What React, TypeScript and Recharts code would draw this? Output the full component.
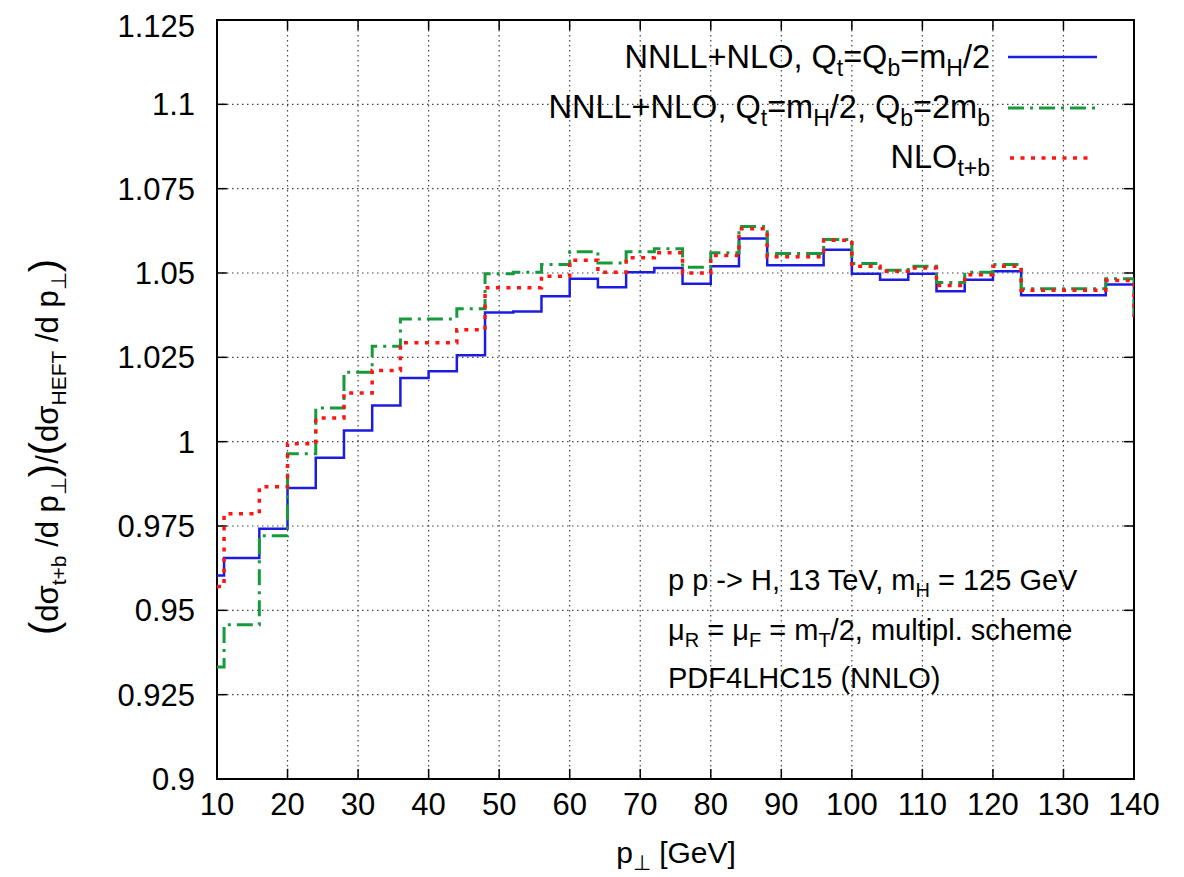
import { CartesianGrid, Line, LineChart, ReferenceArea, ReferenceLine, XAxis, YAxis } from "recharts";

// bin starts in p_T [GeV]; last entry closes the histogram at 140
const BIN_EDGES = [10, 11, 16, 20, 24, 28, 32, 36, 40, 44, 48, 52, 56, 60, 64, 68, 72, 76, 80, 84, 88, 92, 96, 100, 104, 108, 112, 116, 120, 124, 128, 132, 136, 140];

const NNLL_QT_QB = [0.9603, 0.9655, 0.9742, 0.9863, 0.9952, 1.0033, 1.0107, 1.0189, 1.0209, 1.0256, 1.0383, 1.0386, 1.0431, 1.0483, 1.0458, 1.0502, 1.0515, 1.0468, 1.052, 1.0602, 1.0523, 1.0523, 1.0569, 1.0498, 1.048, 1.0498, 1.0446, 1.048, 1.0505, 1.0434, 1.0434, 1.0434, 1.0466, 1.037];
const NNLL_QB_2MB = [0.9332, 0.9457, 0.9721, 0.9964, 1.01, 1.0206, 1.0283, 1.0364, 1.0364, 1.0394, 1.0498, 1.0502, 1.0525, 1.0563, 1.053, 1.0563, 1.0572, 1.0517, 1.056, 1.0638, 1.0558, 1.0558, 1.0599, 1.0528, 1.0508, 1.052, 1.0472, 1.0502, 1.0525, 1.0453, 1.0453, 1.0453, 1.0483, 1.037];
const NLO_TB = [0.9571, 0.9786, 0.9866, 0.9994, 1.007, 1.0144, 1.0211, 1.0293, 1.0293, 1.0332, 1.0456, 1.0456, 1.049, 1.0538, 1.0502, 1.0545, 1.056, 1.05, 1.0552, 1.0631, 1.0548, 1.0548, 1.0597, 1.052, 1.0505, 1.0515, 1.0463, 1.0495, 1.052, 1.0449, 1.0449, 1.0449, 1.0478, 1.037];

const X_TICKS = [10, 20, 30, 40, 50, 60, 70, 80, 90, 100, 110, 120, 130, 140];
const Y_TICKS = [0.9, 0.925, 0.95, 0.975, 1, 1.025, 1.05, 1.075, 1.1, 1.125];

const data = BIN_EDGES.map((x, i) => ({
  x,
  qtqb: NNLL_QT_QB[i],
  qb2mb: NNLL_QB_2MB[i],
  nlo: NLO_TB[i],
}));

const FONT = "'Liberation Sans', Arial, Helvetica, sans-serif";
const W = 1176;
const H = 869;

const BLUE = "#1c1ce0";
const GREEN = "#169a3c";
const RED = "#ff1414";
const GREEN_DASH = "16 6 3 6";
const RED_DASH = "4 6.5";

// text pieces: plain strings, or [string] for a subscript, or {big: string} for enlarged glyphs
type Piece = string | [string] | { big: string };

function rich(pieces: Piece[], subSize: number, dy: number, bigSize = 0) {
  let low = false;
  return pieces.map((p, i) => {
    if (Array.isArray(p)) {
      const shift = low ? 0 : dy;
      low = true;
      return <tspan key={i} dy={shift} fontSize={subSize}>{p[0]}</tspan>;
    }
    const shift = low ? -dy : 0;
    low = false;
    if (typeof p === "object") {
      return <tspan key={i} dy={shift} fontSize={bigSize}>{p.big}</tspan>;
    }
    return <tspan key={i} dy={shift}>{p}</tspan>;
  });
}

function Overlay() {
  return (
    <svg width={W} height={H} style={{ position: "absolute", left: 0, top: 0, pointerEvents: "none" }} fontFamily={FONT}>
      {/* legend */}
      <g fontSize={32.5} fill="#000" textAnchor="end">
        <text x={982} y={60}>
          {rich(["NNLL+NLO, Q", ["t"], "=Q", ["b"], "=m", ["H"], "/2"], 23, 8)}
        </text>
        <text x={982} y={110}>
          {rich(["NNLL+NLO, Q", ["t"], "=m", ["H"], "/2, Q", ["b"], "=2m", ["b"]], 23, 8)}
        </text>
        <text x={982} y={160}>
          {rich(["NLO", ["t+b"]], 23, 8)}
        </text>
      </g>
      <line x1={1000} x2={1089} y1={49} y2={49} stroke={BLUE} strokeWidth={2.5} />
      <line x1={1000} x2={1089} y1={100} y2={100} stroke={GREEN} strokeWidth={3} strokeDasharray={GREEN_DASH} />
      <line x1={1002} x2={1084} y1={150} y2={150} stroke={RED} strokeWidth={3.5} strokeDasharray={RED_DASH} />

      {/* annotations */}
      <g fontSize={29} fill="#000">
        <text x={660} y={582}>
          {rich(["p p -> H, 13 TeV, m", ["H"], " = 125 GeV"], 20, 7)}
        </text>
        <text x={660} y={632}>
          {rich(["μ", ["R"], " = μ", ["F"], " = m", ["T"], "/2, multipl. scheme"], 20, 7)}
        </text>
        <text x={660} y={680}>PDF4LHC15 (NNLO)</text>
      </g>

      {/* x label */}
      <text x={668} y={855} fontSize={30} textAnchor="middle">
        {rich(["p", ["⊥"], " [GeV]"], 21, 7)}
      </text>

      {/* y label */}
      <text transform="translate(50,439) rotate(-90)" fontSize={31} textAnchor="middle">
        {rich(
          [{ big: "(" }, "dσ", ["t+b"], " /d p", ["⊥"], { big: ")" }, "/", { big: "(" }, "dσ", ["HEFT"], " /d p", ["⊥"], { big: ")" }],
          21,
          8,
          40
        )}
      </text>
    </svg>
  );
}

export default function App() {
  return (
    <div style={{ position: "relative", width: W, height: H, background: "#fff" }}>
      <LineChart width={W} height={H} data={data} margin={{ top: 12, right: 50, bottom: 48, left: 109 }}>
        <CartesianGrid stroke="#444" strokeDasharray="1.5 3.5" strokeWidth={1.2} />
        <XAxis
          dataKey="x"
          type="number"
          domain={[10, 140]}
          ticks={X_TICKS}
          allowDataOverflow
          height={50}
          axisLine={false}
          tickLine={false}
          tickMargin={8}
          tick={{ fill: "#000", fontSize: 31, fontFamily: FONT }}
        />
        <YAxis
          type="number"
          domain={[0.9, 1.125]}
          ticks={Y_TICKS}
          allowDataOverflow
          width={100}
          axisLine={false}
          tickLine={false}
          tickMargin={16}
          tick={{ fill: "#000", fontSize: 31, fontFamily: FONT }}
          tickFormatter={(v: number) => String(v)}
        />
        {X_TICKS.map((t) => (
          <ReferenceLine key={"b" + t} segment={[{ x: t, y: 0.9 }, { x: t, y: 0.903 }]} stroke="#000" strokeWidth={1.5} />
        ))}
        {X_TICKS.map((t) => (
          <ReferenceLine key={"t" + t} segment={[{ x: t, y: 1.125 }, { x: t, y: 1.122 }]} stroke="#000" strokeWidth={1.5} />
        ))}
        {Y_TICKS.map((t) => (
          <ReferenceLine key={"l" + t} segment={[{ x: 10, y: t }, { x: 11.4, y: t }]} stroke="#000" strokeWidth={1.5} />
        ))}
        {Y_TICKS.map((t) => (
          <ReferenceLine key={"r" + t} segment={[{ x: 140, y: t }, { x: 138.6, y: t }]} stroke="#000" strokeWidth={1.5} />
        ))}
        <Line dataKey="qtqb" type="stepAfter" stroke={BLUE} strokeWidth={2.5} dot={false} isAnimationActive={false} />
        <Line dataKey="qb2mb" type="stepAfter" stroke={GREEN} strokeWidth={3} strokeDasharray={GREEN_DASH} dot={false} isAnimationActive={false} />
        <Line dataKey="nlo" type="stepAfter" stroke={RED} strokeWidth={3.5} strokeDasharray={RED_DASH} dot={false} isAnimationActive={false} />
        <ReferenceArea x1={10} x2={140} y1={0.9} y2={1.125} fill="none" stroke="#000" strokeWidth={2} ifOverflow="visible" />
      </LineChart>
      <Overlay />
    </div>
  );
}
